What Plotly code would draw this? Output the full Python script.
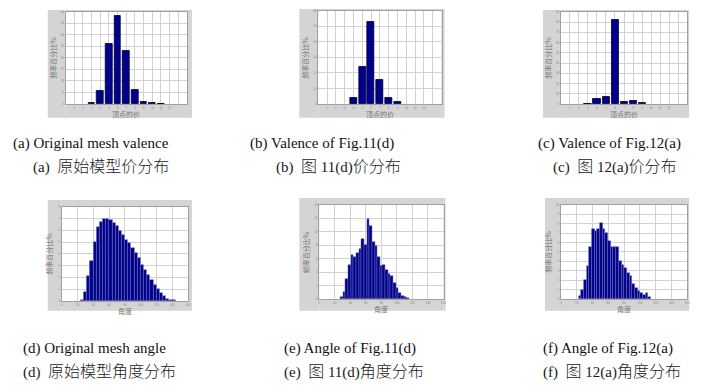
import plotly.graph_objects as go

W, H = 719, 392

# ---- valence histograms (percentage of vertices per valence) ----
valence = [1, 2, 3, 4, 5, 6, 7, 8, 9, 10, 11, 12]
val_original = [None, None, 0.5, 5.7, 26.0, 38.3, 23.1, 6.1, 1.1, 0.3, 0.1, None]
val_fig11d = [None, None, None, 3.6, 24.0, 52.8, 15.7, 3.6, 1.5, None, None, None]
val_fig12a = [None, None, 0.3, 4.5, 6.5, 82.0, 2.3, 3.2, 1.3, None, None, None]

# ---- angle histograms (percentage of triangle angles per bin) ----
ang_d_bins = [26, 30, 34, 38, 42, 46, 50, 54, 58, 62, 66, 70, 74, 78, 82, 86, 90, 94,
              98, 102, 106, 110, 114, 118, 122, 126, 130, 134, 138, 142]
ang_d_vals = [0.1, 0.8, 2.1, 3.4, 5.0, 6.3, 6.7, 7.0, 7.0, 6.9, 6.6, 6.4, 6.0, 5.6, 5.2,
              4.9, 4.5, 4.1, 3.7, 3.1, 2.6, 2.2, 1.8, 1.4, 1.0, 0.7, 0.4, 0.2, 0.1, 0.05]

ang_e_bins = [29, 32.4, 35.8, 39.2, 42.6, 46, 49.4, 52.8, 56.2, 59.6, 63, 66.4, 69.8, 73.2,
              76.6, 80, 83.4, 86.8, 90.2, 93.6, 97, 100.4, 103.8, 107.2, 110.6, 114]
ang_e_vals = [0.3, 1.0, 3.0, 5.1, 6.5, 6.3, 6.9, 7.5, 9.0, 8.0, 11.9, 10.8, 8.5, 7.9, 6.3,
              4.9, 5.0, 4.3, 3.7, 3.5, 2.4, 1.6, 0.9, 0.5, 0.3, 0.2]

ang_f_bins = [24, 27.4, 30.8, 34.2, 37.6, 41, 44.4, 47.8, 51.2, 54.6, 58, 61.4, 64.8, 68.2,
              71.6, 75, 78.4, 81.8, 85.2, 88.6, 92, 95.4, 98.8, 102.2, 105.6, 109, 112.4]
ang_f_vals = [0.3, 1.0, 2.0, 3.5, 5.5, 7.5, 7.2, 7.5, 8.1, 7.4, 7.0, 6.2, 5.5, 5.5, 5.5,
              4.0, 3.6, 3.3, 2.8, 2.4, 1.6, 1.2, 0.9, 0.6, 0.4, 0.6, 0.2]

captions_en = ["(a) Original mesh valence", "(b) Valence of Fig.11(d)", "(c) Valence of Fig.12(a)",
               "(d) Original mesh angle", "(e) Angle of Fig.11(d)", "(f) Angle of Fig.12(a)"]
captions_zh = ["(a)  原始模型价分布", "(b)  图 11(d)价分布", "(c)  图 12(a)价分布",
               "(d)  原始模型角度分布", "(e)  图 11(d)角度分布", "(f)  图 12(a)角度分布"]

y_title = "频率百分比%"
x_title_val = "顶点的价"
x_title_ang = "角度"

# panel geometry in pixels: plot area (x0, x1, y0, y1) and grey frame (x0, x1, y0, y1)
plots = [(65, 187, 10, 103), (319, 443, 9, 103), (563, 690, 10, 103),
         (61, 188, 207, 302), (320, 445, 205, 300), (563, 690, 205, 300)]
frames = [(47, 192, 8, 117), (300, 446, 7, 117), (545, 692, 8, 117),
          (47, 192, 200, 312), (300, 447, 198, 312), (547, 692, 198, 312)]

NAVY = "#00008c"
GRID = "#d2d2d2"
FRAME = "#d4d4d4"
TICKF = dict(family="Liberation Sans", size=3, color="#888888")
TITLEF = dict(family="Noto Sans CJK SC", size=7, color="#777777")


def px(x):
    return x / W


def py(y):
    return 1 - y / H


def cjk_wrap(text, size):
    """Render CJK runs a little larger than the Latin text around them."""
    out, run = [], ""
    for ch in text:
        if ord(ch) > 0x2E80:
            run += ch
        else:
            if run:
                out.append(f'<span style="font-size:{size}px">{run}</span>')
                run = ""
            out.append(ch)
    if run:
        out.append(f'<span style="font-size:{size}px">{run}</span>')
    return "".join(out)


fig = go.Figure()
shapes = []
annotations = []

series = [
    (valence, val_original, 40, 5, "val"),
    (valence, val_fig11d, 60, 10, "val"),
    (valence, val_fig12a, 90, 10, "val"),
    (ang_d_bins, ang_d_vals, 8, 1, "ang"),
    (ang_e_bins, ang_e_vals, 14, 2, "ang"),
    (ang_f_bins, ang_f_vals, 10, 1, "ang"),
]

for i, (xs, ys, ymax, ystep, kind) in enumerate(series):
    n = i + 1
    xa = "x" if n == 1 else f"x{n}"
    ya = "y" if n == 1 else f"y{n}"
    xk = "xaxis" if n == 1 else f"xaxis{n}"
    yk = "yaxis" if n == 1 else f"yaxis{n}"
    x0, x1, y0, y1 = plots[i]
    fx0, fx1, fy0, fy1 = frames[i]

    if kind == "val":
        fig.add_trace(go.Bar(x=xs, y=ys, width=0.8, xaxis=xa, yaxis=ya,
                             marker=dict(color=NAVY, line=dict(color="#000033", width=0.8)),
                             showlegend=False))
        xr = [0, 14]
        xticks = list(range(0, 15))
        xtext = [str(v) if 1 <= v <= 12 else "" for v in xticks]
        xtitle = x_title_val
    else:
        w = xs[1] - xs[0]
        fig.add_trace(go.Bar(x=xs, y=ys, width=w, xaxis=xa, yaxis=ya,
                             marker=dict(color=NAVY, line=dict(color="#6f6fb8", width=0.5)),
                             showlegend=False))
        xr = [0, 160]
        xticks = list(range(0, 161, 20))
        xtext = [str(v) for v in xticks]
        xtitle = x_title_ang

    yticks = [k * ystep for k in range(int(ymax / ystep) + 1)]

    fig.layout[xk] = dict(domain=[px(x0), px(x1)], range=xr, anchor=ya,
                          tickvals=xticks, ticktext=xtext, tickfont=TICKF,
                          showgrid=True, gridcolor=GRID, gridwidth=1,
                          showline=True, linecolor="#a0a0a0", linewidth=1, mirror=True,
                          ticks="", ticklen=0, zeroline=False, fixedrange=True)
    fig.layout[yk] = dict(domain=[py(y1), py(y0)], range=[0, ymax], anchor=xa,
                          tickvals=yticks, tickfont=TICKF,
                          showgrid=True, gridcolor=GRID, gridwidth=1,
                          showline=True, linecolor="#a0a0a0", linewidth=1, mirror=True,
                          ticks="", zeroline=False, fixedrange=True)

    # grey frame around each small chart, drawn as four strips around the plot area
    for (a0, a1, b0, b1) in [(fx0, x0, fy0, fy1), (x1, fx1, fy0, fy1),
                             (x0, x1, fy0, y0), (x0, x1, y1, fy1)]:
        shapes.append(dict(type="rect", xref="paper", yref="paper", layer="below",
                           x0=px(a0), x1=px(a1), y0=py(b1), y1=py(b0),
                           fillcolor=FRAME, line=dict(width=0)))
    # axis titles
    annotations.append(dict(text=xtitle, xref="paper", yref="paper",
                            x=px((x0 + x1) / 2), y=py(y1 + 10), showarrow=False,
                            font=TITLEF, xanchor="center", yanchor="middle"))
    annotations.append(dict(text=y_title, xref="paper", yref="paper",
                            x=px(x0 - 13), y=py((y0 + y1) / 2), showarrow=False,
                            font=TITLEF, textangle=-90, xanchor="center", yanchor="middle"))

# captions
CAPF = dict(family="Liberation Serif, Noto Sans CJK SC", size=15, color="#111111")
CAPF_ZH = dict(family="Liberation Serif, Noto Sans CJK SC", size=15, color="#1a1a1a", weight=300)
cap_x_en = [10, 248, 538, 20, 283, 543]
cap_x_zh = [30, 275, 553, 20, 283, 543]
cap_y = [143, 143, 143, 350, 350, 350]
for i in range(6):
    annotations.append(dict(text=captions_en[i], xref="paper", yref="paper",
                            x=px(cap_x_en[i]), y=py(cap_y[i]), showarrow=False,
                            font=CAPF, xanchor="left", yanchor="middle"))
    annotations.append(dict(text=cjk_wrap(captions_zh[i], 16), xref="paper", yref="paper",
                            x=px(cap_x_zh[i]), y=py(cap_y[i] + 24), showarrow=False,
                            font=CAPF_ZH, xanchor="left", yanchor="middle"))

fig.update_layout(width=W, height=H, margin=dict(l=0, r=0, t=0, b=0),
                  paper_bgcolor="white", plot_bgcolor="white",
                  bargap=0, shapes=shapes, annotations=annotations)

fig.write_html("out.html")
